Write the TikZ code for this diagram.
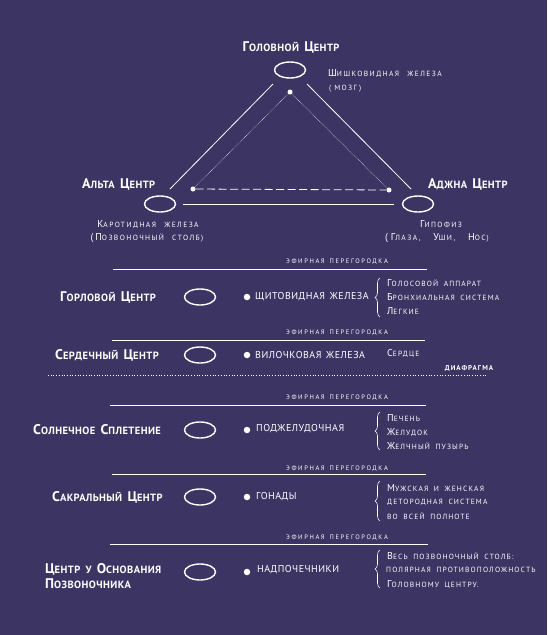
\documentclass[tikz,border=0pt]{standalone}
\usepackage{fontspec}
\setmainfont{PT Sans}
\newfontfamily\lsf[LetterSpace=4,WordSpace=1.8]{PT Sans}
\newfontfamily\lsw[LetterSpace=15,WordSpace=1.8]{PT Sans}
\newfontfamily\lst[LetterSpace=19,WordSpace=2.4]{PT Sans}
\newfontfamily\lse[LetterSpace=25,WordSpace=1.5]{PT Sans}
\newfontfamily\lsg[LetterSpace=5,WordSpace=1.5]{PT Sans}
\usetikzlibrary{decorations.pathreplacing,shapes.geometric}
\definecolor{bg}{RGB}{60,52,98}
\newcommand\cnm[2]{{\fontsize{14}{14}\selectfont #1}{\fontsize{10.5}{10.5}\selectfont #2}}
\newcommand\litm[2]{{\fontsize{10}{10}\selectfont #1}{\fontsize{7.5}{7.5}\selectfont #2}}
\newcommand\smw[1]{{\fontsize{7.5}{7.5}\selectfont #1}}
\begin{document}
\begin{tikzpicture}[x=1pt,y=-1pt,
 every node/.style={text=white,inner sep=0pt},
 cname/.style={font=\lsf\bfseries, anchor=west},
 gland/.style={font=\lsg\fontsize{10}{10}\selectfont, anchor=west},
 item/.style={font=\lsw, anchor=west},
 tlbl/.style={font=\lst},
 ether/.style={font=\lse\fontsize{6.5}{6.5}\selectfont},
 chakra/.style={draw=white, line width=1.4pt, ellipse, minimum width=31pt, minimum height=16pt},
 gdot/.style={circle, fill=white, minimum size=6.5pt},
 tdot/.style={circle, fill=white, minimum size=5pt},
 wall/.style={draw=white, line width=0.9pt},
 tri/.style={draw=white, line width=0.8pt},
 brc/.style={draw=white, line width=0.6pt, decorate, decoration={brace, amplitude=5pt}},
]
\fill[bg] (0,0) rectangle (547,635);
\useasboundingbox (0,0) rectangle (547,635);

% ---------- triangle ----------
\node[font=\lsf\bfseries] (headlbl) at (291,47) {\cnm{Г}{ОЛОВНОЙ}\ \cnm{Ц}{ЕНТР}};
\node[chakra] (head) at (290,70) {};
\node[tlbl,anchor=west] (pineal) at (328,73) {\litm{Ш}{ИШКОВИДНАЯ ЖЕЛЕЗА}};
\node[tlbl,anchor=west] (brain) at (329,89) {\smw{(\hspace{3pt}МОЗГ\hspace{2pt})}};
\node[tdot] (hd) at (290,92) {};

\node[cname] (altalbl) at (82,184) {\cnm{А}{ЛЬТА}\ \cnm{Ц}{ЕНТР}};
\node[chakra] (alta) at (160,204) {};
\node[tdot] (ad) at (193,189) {};
\node[tlbl] (carot) at (148,224) {\litm{К}{АРОТИДНАЯ ЖЕЛЕЗА}};
\node[tlbl] (spine) at (147,238) {\litm{(П}{ОЗВОНОЧНЫЙ СТОЛБ)}};

\node[cname] (ajnalbl) at (428,184) {\cnm{А}{ДЖНА}\ \cnm{Ц}{ЕНТР}};
\node[chakra] (ajna) at (418,204) {};
\node[tdot] (jd) at (389,190) {};
\node[tlbl] (pit) at (441,224) {\litm{Г}{ИПОФИЗ}};
\node[tlbl] (eyes) at (437,238) {\litm{(\hspace{3pt}Г}{ЛАЗА,}\hspace{2pt} \litm{У}{ШИ,}\hspace{2pt} \litm{Н}{ОС\hspace{1pt})}};

\coordinate (l1) at (273,84); \coordinate (l2) at (170,189);
\coordinate (r1) at (307,84); \coordinate (r2) at (411,189);
\coordinate (b1) at (183,204); \coordinate (b2) at (394,204);
\draw[tri] (l1) -- (l2);
\draw[tri] (r1) -- (r2);
\draw[tri] (b1) -- (b2);
\draw[draw=white, line width=0.5pt, densely dotted] (hd) -- (ad);
\draw[draw=white, line width=0.5pt, densely dotted] (hd) -- (jd);
\draw[draw=white, line width=0.8pt, dash pattern=on 8pt off 3.5pt] (ad) -- (jd);

% ---------- throat ----------
\node[ether] (e1) at (337,262) {ЭФИРНАЯ ПЕРЕГОРОДКА};
\coordinate (w1a) at (113,269); \coordinate (w1b) at (427,269);
\draw[wall] (w1a) -- (w1b);
\node[cname] (throatlbl) at (60,297) {\cnm{Г}{ОРЛОВОЙ}\ \cnm{Ц}{ЕНТР}};
\node[chakra] (throat) at (200,297) {};
\node[gdot] (td) at (247,297) {};
\node[gland] (thyr) at (255,297) {ЩИТОВИДНАЯ ЖЕЛЕЗА};
\coordinate (bt1) at (380,317); \coordinate (bt2) at (380,278);
\draw[brc] (bt1) -- (bt2);
\node[item] (t1) at (387,283) {\litm{Г}{ОЛОСОВОЙ АППАРАТ}};
\node[item] (t2) at (387,297) {\litm{Б}{РОНХИАЛЬНАЯ СИСТЕМА}};
\node[item] (t3) at (387,311) {\litm{Л}{ЕГКИЕ}};

% ---------- heart ----------
\node[ether] (e2) at (337,333) {ЭФИРНАЯ ПЕРЕГОРОДКА};
\coordinate (w2a) at (112,340); \coordinate (w2b) at (425,340);
\draw[wall] (w2a) -- (w2b);
\node[cname] (heartlbl) at (55,355) {\cnm{С}{ЕРДЕЧНЫЙ}\ \cnm{Ц}{ЕНТР}};
\node[chakra] (heart) at (200,355) {};
\node[gdot] (hdd) at (247,355) {};
\node[gland] (thym) at (255,355) {ВИЛОЧКОВАЯ ЖЕЛЕЗА};
\node[item] (hrt) at (387,353) {\litm{С}{ЕРДЦЕ}};
\node[font=\lsw\bfseries\fontsize{7}{7}\selectfont] (diaph) at (469,368) {ДИАФРАГМА};
\coordinate (dpa) at (48,375); \coordinate (dpb) at (488,375);
\draw[draw=white, line width=0.7pt, dotted] (dpa) -- (dpb);

% ---------- solar ----------
\node[ether] (e3) at (337,398) {ЭФИРНАЯ ПЕРЕГОРОДКА};
\coordinate (w3a) at (110,405); \coordinate (w3b) at (426,405);
\draw[wall] (w3a) -- (w3b);
\node[cname] (solarlbl) at (33,430) {\cnm{С}{ОЛНЕЧНОЕ}\ \cnm{С}{ПЛЕТЕНИЕ}};
\node[chakra] (solar) at (200,430) {};
\node[gdot] (sd) at (247,430) {};
\node[gland] (panc) at (256,429) {ПОДЖЕЛУДОЧНАЯ};
\coordinate (bs1) at (380,450); \coordinate (bs2) at (380,412);
\draw[brc] (bs1) -- (bs2);
\node[item] (s1) at (387,418) {\litm{П}{ЕЧЕНЬ}};
\node[item] (s2) at (387,432) {\litm{Ж}{ЕЛУДОК}};
\node[item] (s3) at (387,446) {\litm{Ж}{ЕЛЧНЫЙ ПУЗЫРЬ}};

% ---------- sacral ----------
\node[ether] (e4) at (337,469) {ЭФИРНАЯ ПЕРЕГОРОДКА};
\coordinate (w4a) at (112,474); \coordinate (w4b) at (426,474);
\draw[wall] (w4a) -- (w4b);
\node[cname] (sacrlbl) at (52,497) {\cnm{С}{АКРАЛЬНЫЙ}\ \cnm{Ц}{ЕНТР}};
\node[chakra] (sacr) at (200,497) {};
\node[gdot] (scd) at (247,497) {};
\node[gland] (gon) at (256,497) {ГОНАДЫ};
\coordinate (bc1) at (380,521); \coordinate (bc2) at (380,481);
\draw[brc] (bc1) -- (bc2);
\node[item] (c1) at (387,488) {\litm{М}{УЖСКАЯ И ЖЕНСКАЯ}};
\node[item] (c2) at (387,502) {\smw{ДЕТОРОДНАЯ СИСТЕМА}};
\node[item] (c3) at (387,516) {\smw{ВО ВСЕЙ ПОЛНОТЕ}};

% ---------- base ----------
\node[ether] (e5) at (337,538) {ЭФИРНАЯ ПЕРЕГОРОДКА};
\coordinate (w5a) at (110,544); \coordinate (w5b) at (428,544);
\draw[wall] (w5a) -- (w5b);
\node[cname, align=left] (baselbl) at (45,576) {\cnm{Ц}{ЕНТР} \cnm{}{У} \cnm{О}{СНОВАНИЯ}\\[3pt]\cnm{П}{ОЗВОНОЧНИКА}};
\node[chakra] (base) at (200,572) {};
\node[gdot] (bd) at (247,572) {};
\node[gland] (adr) at (257,570) {НАДПОЧЕЧНИКИ};
\coordinate (bb1) at (380,588); \coordinate (bb2) at (380,550);
\draw[brc] (bb1) -- (bb2);
\node[item] (b1n) at (387,556) {\litm{В}{ЕСЬ ПОЗВОНОЧНЫЙ СТОЛБ:}};
\node[item] (b2n) at (386,570) {\smw{ПОЛЯРНАЯ ПРОТИВОПОЛОЖНОСТЬ}};
\node[item] (b3n) at (387,584) {\litm{Г}{ОЛОВНОМУ ЦЕНТРУ.}};
\end{tikzpicture}
\end{document}
